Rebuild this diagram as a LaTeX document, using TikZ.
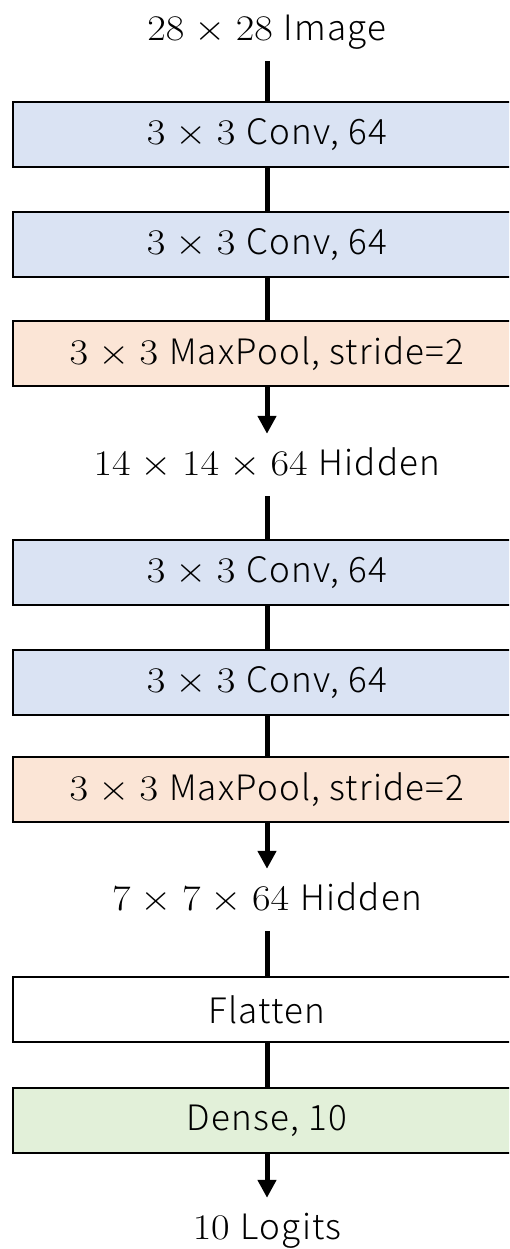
\documentclass[tikz,border=0pt]{standalone}
\usepackage{fontspec}
\usepackage{graphicx}
\newfontfamily\jpsans{Noto Sans CJK JP Light}[LetterSpace=3.5]
\usetikzlibrary{arrows.meta}
\definecolor{convblue}{HTML}{DAE3F3}
\definecolor{poolorange}{HTML}{FBE5D6}
\definecolor{densegreen}{HTML}{E2F0D9}
% numbers and sizes are typeset as maths, enlarged to sit with the words
\newcommand{\dimsz}[1]{\scalebox{1.62}[1.45]{\fontsize{24.88}{28}\selectfont\medmuskip=4.5mu$#1$}\hspace{2pt}}
\tikzset{
  layer/.style={draw=black, line width=2.5pt, minimum width=508pt, minimum height=65pt,
    inner sep=0pt, font=\jpsans\fontsize{35}{38}\selectfont},
  convbox/.style={layer, fill=convblue},
  poolbox/.style={layer, fill=poolorange},
  densebox/.style={layer, fill=densegreen},
  plainbox/.style={layer, fill=white},
  tensor/.style={inner sep=0pt, minimum height=62pt, text height=25pt, text depth=4pt,
    font=\jpsans\fontsize{35}{38}\selectfont},
  link/.style={line width=5pt},
  flow/.style={line width=5pt, -{Triangle[width=18pt,length=18pt]}}
}
\begin{document}
\begin{tikzpicture}[x=1pt,y=-1pt]
\useasboundingbox (0,0) rectangle (509,1249);
\fill[white] (0,0) rectangle (509,1249);
\begin{scope}
\clip (0,0) rectangle (509,1249);
\node[tensor] (img) at (267,30) {\dimsz{28\times28} Image};
\node[convbox] (c1) at (267,134.5) {\dimsz{3\times3} Conv, 64};
\node[convbox] (c2) at (267,244.5) {\dimsz{3\times3} Conv, 64};
\node[poolbox] (p1) at (267,353.5) {\dimsz{3\times3} MaxPool, stride=2};
\node[tensor] (h1) at (267,465) {\dimsz{14\times14\times64} Hidden};
\node[convbox] (c3) at (267,572.5) {\dimsz{3\times3} Conv, 64};
\node[convbox] (c4) at (267,682.5) {\dimsz{3\times3} Conv, 64};
\node[poolbox] (p2) at (267,789.5) {\dimsz{3\times3} MaxPool, stride=2};
\node[tensor] (h2) at (267,900) {\dimsz{7\times7\times64} Hidden};
\node[plainbox] (fl) at (267,1009.5) {Flatten};
\node[densebox] (dn) at (267,1120.5) {Dense, 10};
\node[tensor] (out) at (267,1229) {\dimsz{10} Logits};

\draw[link] (img) -- (c1);
\draw[link] (c1) -- (c2);
\draw[link] (c2) -- (p1);
\draw[flow] (p1) -- (h1);
\draw[link] (h1) -- (c3);
\draw[link] (c3) -- (c4);
\draw[link] (c4) -- (p2);
\draw[flow] (p2) -- (h2);
\draw[link] (h2) -- (fl);
\draw[link] (fl) -- (dn);
\draw[flow] (dn) -- (out);
\end{scope}
\end{tikzpicture}
\end{document}
